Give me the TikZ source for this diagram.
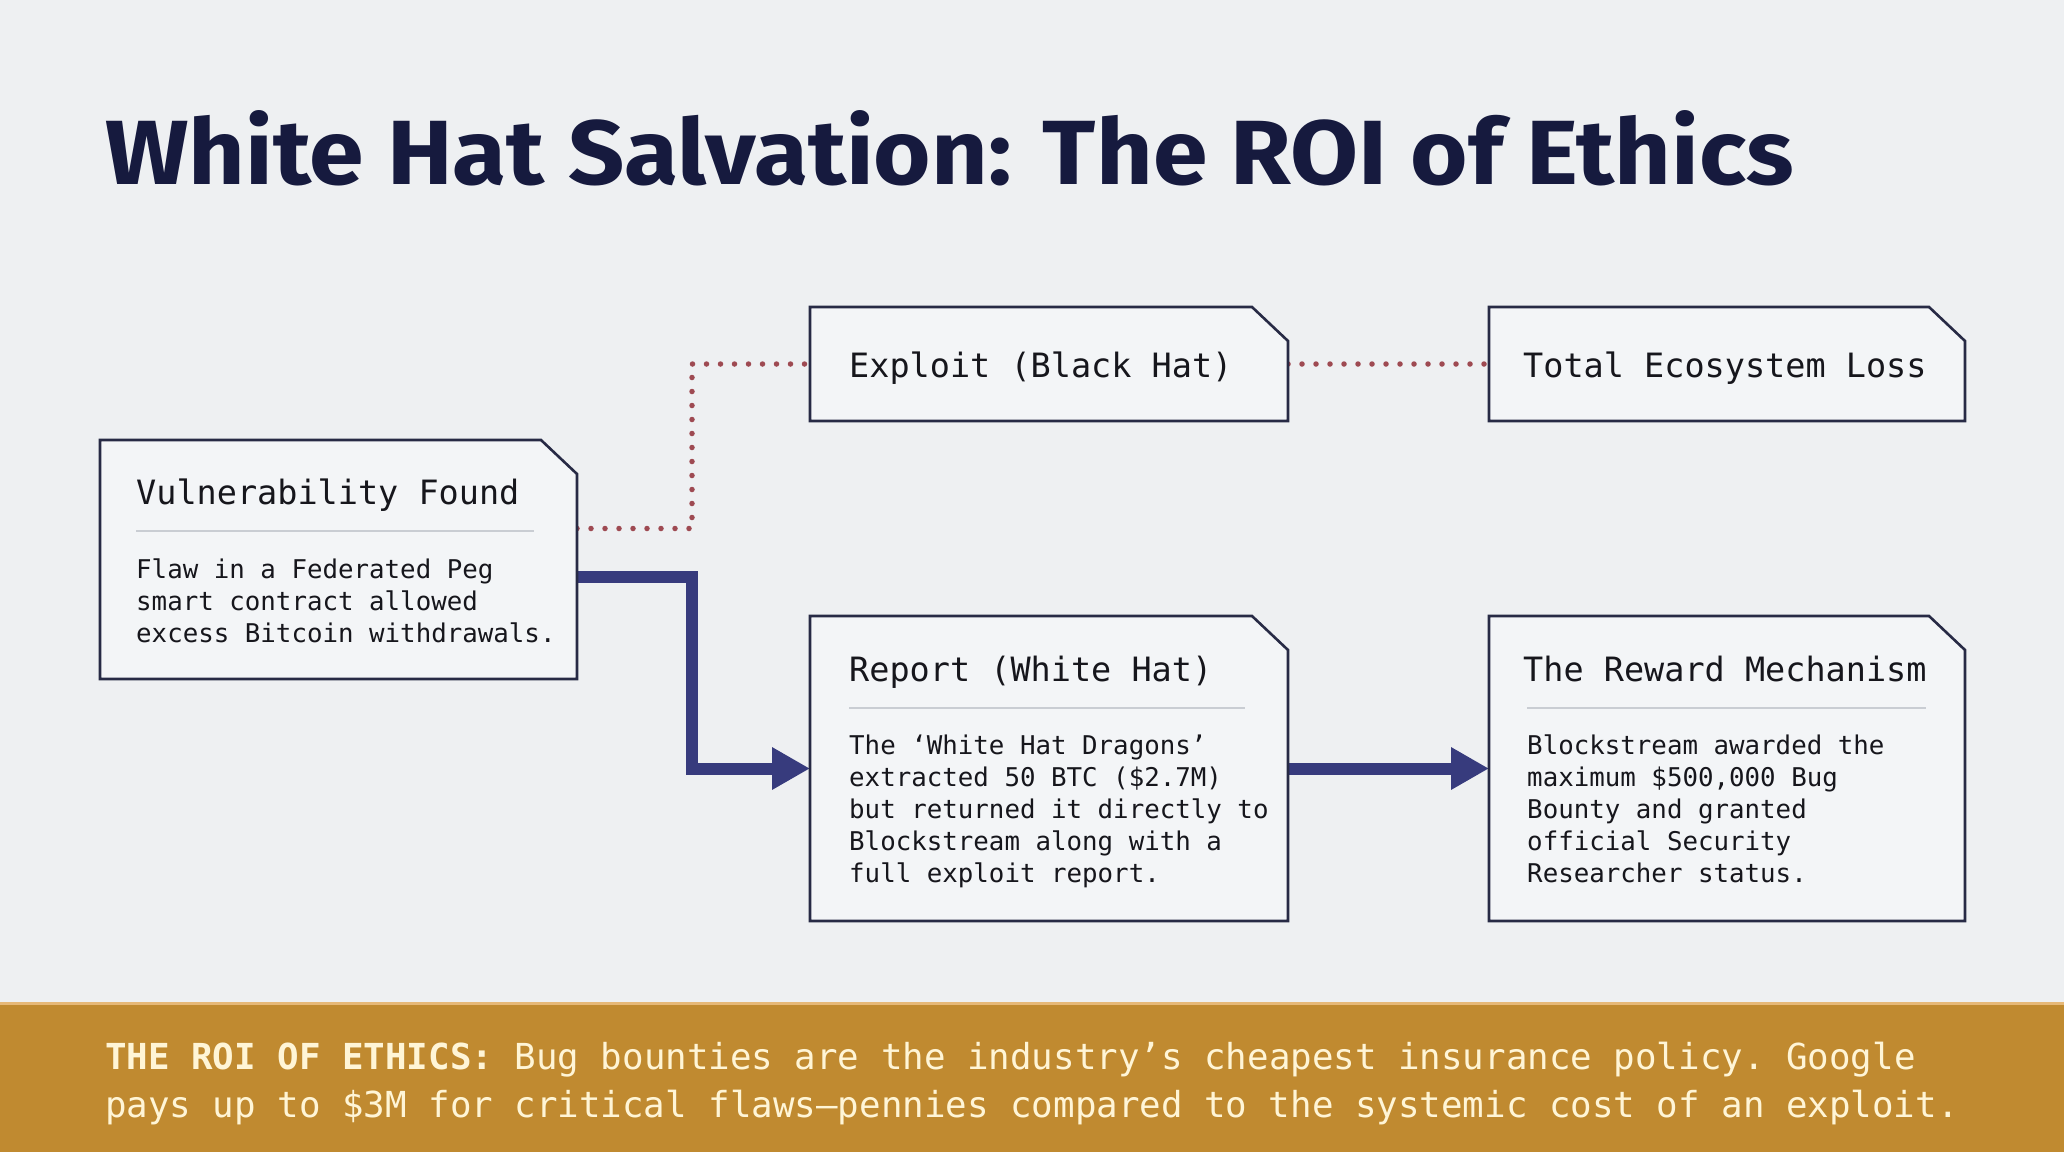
\documentclass[tikz,border=0pt]{standalone}
\usepackage{graphicx}
\usepackage{fontspec}
\setmonofont{DejaVu Sans Mono}
\newfontfamily\titlefont{Fira Sans}
\usetikzlibrary{arrows.meta,calc}
\definecolor{bgc}{HTML}{EEF0F2}
\definecolor{boxfill}{HTML}{F3F5F7}
\definecolor{boxline}{HTML}{272A45}
\definecolor{titlec}{HTML}{161A3E}
\definecolor{arrowc}{HTML}{373B7D}
\definecolor{dotc}{HTML}{9E4A52}
\definecolor{sepc}{HTML}{C9CDD3}
\definecolor{bandc}{HTML}{C08A30}
\definecolor{bandtext}{HTML}{FFF5D6}
\definecolor{bandline}{HTML}{E6B877}
\definecolor{textc}{HTML}{16161C}
\tikzset{
  boxnode/.style={rectangle, inner sep=0pt, outer sep=0pt, draw=none},
  boxout/.style={draw=boxline, fill=boxfill, line width=2.6pt, line join=miter},
  ttl/.style={anchor=base west, inner sep=0pt, text=textc, font=\ttfamily\fontsize{33.5}{40}\selectfont},
  bodytxt/.style={anchor=base west, inner sep=0pt, text=textc},
  sepline/.style={draw=sepc, line width=2pt},
  solidarrow/.style={draw=arrowc, line width=12pt, line join=miter, -{Triangle[length=38pt,width=40pt]}},
  dotline/.style={draw=dotc, line width=5.5pt, line cap=round, dash pattern=on 0pt off 14pt}
}
\newcommand\cutoutline[1]{\draw[boxout] (#1.north west) -- ([xshift=-36pt]#1.north east) -- ([yshift=-34pt]#1.north east) -- (#1.south east) -- (#1.south west) -- cycle;}
\newcommand\bodyfont{\ttfamily\fontsize{25.8}{32}\selectfont}
\begin{document}
\begin{tikzpicture}[x=1pt,y=-1pt]
\useasboundingbox (0,0) rectangle (2064,1152);
\fill[bgc] (0,0) rectangle (2064,1152);
\fill[bandc] (0,1003) rectangle (2064,1152);
\draw[bandline, line width=3pt] (0,1003) -- (2064,1003);

% title
\node[anchor=base west, inner sep=0pt, text=titlec] (title) at (105,184)
  {\resizebox{1688pt}{74pt}{\titlefont\bfseries White Hat Salvation: The ROI of Ethics}};

% boxes
\node[boxnode, minimum width=477pt, minimum height=239pt] (V) at (338.5,559.5) {};
\node[boxnode, minimum width=478pt, minimum height=114pt] (E) at (1049,364) {};
\node[boxnode, minimum width=476pt, minimum height=114pt] (T) at (1727,364) {};
\node[boxnode, minimum width=478pt, minimum height=305pt] (R) at (1049,768.5) {};
\node[boxnode, minimum width=476pt, minimum height=305pt] (W) at (1727,768.5) {};

% connectors (behind box outlines)
\draw[dotline] ([yshift=31pt]V.east) -| ($(E.west)+(-118,0)$) -- (E.west);
\draw[dotline] (E.east) -- (T.west);
\draw[solidarrow] ([yshift=-17pt]V.east) -| ($(R.west)+(-118,0)$) -- (R.west);
\draw[solidarrow] (R.east) -- (W.west);

\cutoutline{V}
\cutoutline{E}
\cutoutline{T}
\cutoutline{R}
\cutoutline{W}

% texts
\node[ttl] (Vt) at (136,504) {Vulnerability Found};
\draw[sepline] (136,531) -- (534,531);
\node[bodytxt] (Vb) at (136,578) {\parbox[t]{430pt}{\raggedright\bodyfont Flaw in a Federated Peg\\smart contract allowed\\excess Bitcoin withdrawals.}};

\node[ttl] (Et) at (849,377) {Exploit (Black Hat)};
\node[ttl] (Tt) at (1523,377) {Total Ecosystem Loss};

\node[ttl] (Rt) at (849,681) {Report (White Hat)};
\draw[sepline] (849,708) -- (1245,708);
\node[bodytxt] (Rb) at (849,754) {\parbox[t]{430pt}{\raggedright\bodyfont The ‘White Hat Dragons’\\extracted 50 BTC (\$2.7M)\\but returned it directly to\\Blockstream along with a\\full exploit report.}};

\node[ttl] (Wt) at (1523,681) {The Reward Mechanism};
\draw[sepline] (1527,708) -- (1926,708);
\node[bodytxt] (Wb) at (1527,754) {\parbox[t]{430pt}{\raggedright\bodyfont Blockstream awarded the\\maximum \$500,000 Bug\\Bounty and granted\\official Security\\Researcher status.}};

% band text
\node[anchor=base west, inner sep=0pt, text=bandtext] (band) at (105,1069)
  {\parbox[t]{1950pt}{\raggedright\ttfamily\fontsize{35.8}{48}\selectfont\textbf{THE ROI OF ETHICS:} Bug bounties are the industry’s cheapest insurance policy. Google\\pays up to \$3M for critical flaws—pennies compared to the systemic cost of an exploit.}};
\end{tikzpicture}
\end{document}
